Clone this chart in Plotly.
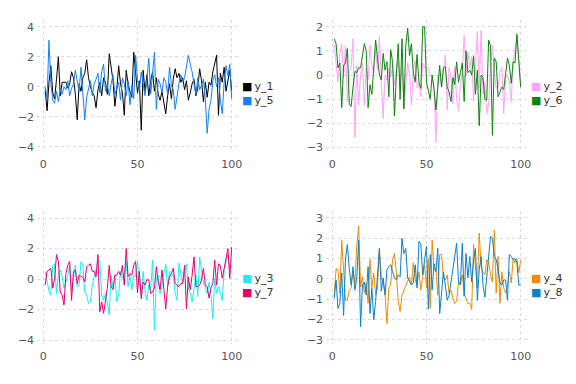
import plotly.graph_objects as go

x = list(range(1, 101))

y_1 = [-0.2, -1.6, 0.3, 1.4, -0.4, -0.8, 0.5, 2.0, -0.6, 0.3,
       0.3, 0.3, -0.1, 0.2, 1.0, 0.6, -0.5, -2.2, 0.2, -0.3,
       0.6, 0.9, 1.8, 0.6, 0.0, -0.4, -0.6, -1.4, -0.2, 0.3,
       -0.6, 0.6, 0.3, -0.5, 2.2, 1.2, 0.4, -1.3, -0.2, 1.4,
       0.2, -0.4, -1.9, 1.1, 0.2, -0.3, -0.7, 2.3, 1.0, -0.4,
       0.4, -2.9, 1.1, -0.3, 0.8, -0.6, 0.4, 1.0, -0.3, 0.6,
       -0.5, -0.9, -0.3, -1.1, -1.8, -0.6, 0.2, -0.8, 0.5, 1.2,
       0.6, 0.9, 0.3, 0.6, -0.2, 0.4, -0.9, -0.4, 0.2, 0.5,
       -0.6, -0.1, 1.2, 0.4, -1.0, 0.3, -0.7, 0.3, 0.1, 1.0,
       1.6, 2.1, -1.9, 0.9, 0.3, 1.3, -0.3, 0.5, 1.1, -0.3]

y_5 = [0.0, -0.8, 3.1, 0.2, -0.9, -1.1, -0.3, -1.0, -0.2, -0.5,
       0.0, -0.2, 0.4, -0.6, -0.1, 0.2, 1.1, 0.4, -0.3, 1.3,
       -0.5, -2.2, -0.7, -0.2, 0.4, -0.6, 0.2, 0.5, 0.9, -0.4,
       1.0, 1.5, -0.3, 0.1, -0.6, 0.2, 0.8, -0.5, -0.1, 0.3,
       -0.9, 0.6, 0.2, -0.6, 0.4, -1.2, 0.1, -0.8, 2.1, 0.5,
       -0.2, 1.0, 0.2, -0.6, 0.5, 1.9, -0.5, 0.8, 2.3, -1.5,
       0.5, 0.2, -0.4, 0.6, 0.3, -0.5, 1.3, 0.1, -0.2, -1.5,
       -0.5, 0.2, 0.8, 0.3, 0.6, 1.4, 2.1, 1.5, 1.0, 0.2,
       -0.5, 0.6, -0.2, 0.1, 0.5, -0.8, -3.1, -1.5, -0.9, 0.4,
       0.8, 0.0, 0.6, -0.9, -1.8, 0.3, 1.4, 0.7, 1.5, -0.8]

y_2 = [1.3, 0.6, -0.3, 0.8, 1.3, -0.1, 1.2, -1.1, 0.2, 0.3,
       1.5, -2.6, 0.4, -1.25, 0.0, 0.5, -1.25, 0.3, -0.2, 1.25,
       0.4, 0.1, 1.0, 0.2, 1.6, -0.2, -1.8, 0.0, -0.2, 0.3,
       -0.1, 0.4, -0.4, 0.2, 0.6, -0.4, 0.3, -1.4, -0.6, 0.5,
       0.1, -1.25, 0.2, 0.6, -0.55, -0.35, -0.9, 0.5, 0.3, 0.3,
       0.3, 0.0, 0.0, -0.5, -2.8, 0.0, 0.0, -0.5, 0.2, 0.85,
       -1.45, 0.3, -0.1, -1.2, 0.35, -1.0, -1.5, -0.4, 0.1, 1.65,
       0.0, 0.95, 0.3, 0.75, -1.1, 0.2, 1.8, -0.55, 1.85, -0.8,
       -0.3, -1.6, -1.2, 0.35, 1.25, 0.1, -0.55, -0.5, 0.1, 0.35,
       -1.6, -0.15, 0.0, -0.3, -1.1, 0.55, 1.1, 1.6, 0.6, -0.4]

y_6 = [1.5, 1.3, 0.3, 0.5, -1.35, 0.4, 0.5, 1.1, -1.2, -1.3,
       -0.5, 0.15, 0.1, 0.3, 0.3, 0.9, 1.3, 1.0, -1.35, -0.4,
       -0.8, 0.3, 1.45, 0.7, 0.0, -0.2, 0.9, 0.2, 0.55, -0.9,
       1.05, 0.55, -1.7, 0.0, 1.3, -1.0, 1.5, -1.4, 1.2, 1.95,
       0.8, 1.3, 0.1, -0.3, 0.85, -0.3, -0.55, 2.0, 2.0, -0.3,
       -0.7, -1.0, 0.0, -0.6, -1.45, -0.4, 0.4, -0.5, 0.3, 0.35,
       -0.5, -0.7, -1.1, -0.1, -0.4, 0.55, -0.3, 0.1, 0.5, -1.1,
       1.0, 0.1, 0.2, 0.0, 0.8, -0.8, 0.2, -2.1, 0.0, -0.1,
       -1.0, -1.05, 1.45, 1.2, -2.5, 0.7, 0.55, -0.9, -0.7, -0.5,
       -0.6, 0.1, 0.7, 0.4, -0.35, 0.55, 0.5, 1.7, 0.7, -0.5]

y_3 = [0.5, -0.05, -0.8, -1.05, 0.9, 1.0, -0.95, 0.35, 0.6, 0.15,
       -0.6, -0.2, 0.15, 0.9, -0.7, -0.05, 0.9, -0.5, -0.4, 1.15,
       0.9, -0.85, -1.05, -1.6, -1.5, -0.4, 0.1, 0.5, 1.15, 1.25,
       -1.05, -1.4, -0.95, -1.5, -2.35, 0.25, -0.6, 0.25, -1.5, -0.95,
       0.5, 0.05, 0.35, 1.15, -0.5, 0.25, -0.7, 0.25, 0.15, 1.15,
       -0.3, -1.05, 0.5, -0.85, -1.4, -0.4, -0.7, 1.25, -3.35, 0.0,
       0.25, -0.95, -0.5, 0.35, 1.0, -0.5, 0.5, 0.15, 0.35, -0.95,
       -1.4, 1.05, 0.25, -0.3, 0.4, 1.0, -0.6, -0.95, -1.5, -0.7,
       0.25, -1.15, 1.45, 0.6, -0.3, -0.5, -0.95, -0.2, -1.05, -2.6,
       0.05, -0.95, -0.5, -0.95, -1.4, 0.5, 1.15, 1.6, 0.7, 0.5]

y_7 = [-0.4, 0.5, 0.6, 0.7, -0.6, 0.05, 1.6, 1.15, -0.85, -1.05,
       -1.7, 0.35, 0.9, 1.15, -1.4, 0.5, 0.6, -0.3, 0.25, 0.15,
       0.1, -0.2, 0.8, 0.9, 1.0, 0.5, 0.5, 0.15, 1.6, -2.15,
       -1.5, -2.25, -1.25, -0.6, 0.9, -0.5, -0.7, 0.25, 0.25, 0.5,
       0.25, 0.9, -0.4, 2.0, 0.15, 0.35, 0.25, 0.9, 1.15, -0.9,
       0.5, -1.3, -0.2, -0.4, -0.05, -0.05, -0.95, -0.85, -0.6, 0.8,
       -0.2, -0.7, 0.6, -0.6, -1.95, -0.5, 0.15, 0.35, 0.7, -0.3,
       -0.4, -0.5, -0.3, -0.3, 0.9, -1.95, 0.15, -0.7, 0.25, 1.45,
       -0.5, -0.5, -0.4, -0.05, 0.7, -0.4, -0.5, -1.25, -0.6, -0.3,
       1.25, -0.4, 1.0, 0.9, 0.05, 0.7, 1.35, 2.0, 0.05, 2.1]

y_4 = [-0.8, 0.5, 0.45, -0.7, 1.9, 0.35, -1.05, -1.05, -0.55, -0.45,
       0.35, -0.2, 1.65, 2.6, -0.4, 0.1, -0.7, -0.2, -1.2, 0.95,
       -0.45, 0.3, -0.8, -0.4, 1.45, 0.1, -0.2, -0.8, -2.2, -0.45,
       -0.3, 0.95, 1.25, 0.3, -1.1, -1.6, -0.8, -0.55, -0.3, -0.05,
       0.1, -0.3, 0.8, -0.05, -0.3, 0.35, -0.55, 0.1, 0.7, -0.45,
       1.0, -1.45, 1.9, 0.45, 0.5, -0.8, 1.2, 1.2, 0.05, -0.05,
       0.2, -0.7, -0.55, -0.95, -1.2, -1.1, -0.15, -0.3, 0.2, -0.7,
       -0.95, -1.2, -1.2, -1.5, 1.7, 0.45, -0.45, 2.25, 0.6, 0.35,
       0.2, 0.95, 0.8, 0.2, -0.15, 2.4, -0.7, 1.1, -1.2, 0.35,
       -0.45, -0.7, -0.3, 0.35, -0.2, 1.0, 0.8, 1.0, 0.3, 0.9]

y_8 = [-0.95, -0.05, -1.45, -1.2, 0.3, -1.8, 1.0, 1.7, 0.5, -0.3,
       0.6, -0.55, 0.05, 1.9, -2.35, -0.3, -0.15, -0.8, 0.6, -1.7,
       -0.45, -2.0, -1.1, 0.35, 1.5, -0.6, 0.05, -0.8, 0.45, 0.6,
       0.7, 0.35, 0.05, -0.05, 0.2, 0.1, 2.0, 1.25, 1.5, 0.05,
       -0.15, -0.3, -0.2, 0.7, -0.45, 1.85, 1.7, 0.2, 0.95, 1.6,
       -1.5, 1.2, -0.55, 0.75, 0.35, 1.5, -1.7, -0.8, 0.35, -0.3,
       -1.05, -0.8, -0.15, 0.6, 1.2, 1.75, -0.15, -0.3, 1.75, -0.85,
       1.25, 0.05, 1.1, -0.15, 0.95, 1.5, -1.05, 0.45, 1.1, -0.3,
       -0.9, 0.1, 1.5, 2.1, 2.0, 1.1, 0.95, 0.5, -0.2, -0.3,
       -0.05, -0.05, -1.05, 1.2, 1.1, 0.95, 1.0, 0.8, -0.3, -0.3]

x_ticks = [0, 50, 100]
y_ticks_1 = [-4, -2, 0, 2, 4]
y_ticks_2 = [-3, -2, -1, 0, 1, 2]
y_ticks_3 = [-4, -2, 0, 2, 4]
y_ticks_4 = [-3, -2, -1, 0, 1, 2, 3]

colors = {
    "y_1": "#000000", "y_5": "#1482f5",
    "y_2": "#ffa3f7", "y_6": "#0a870a",
    "y_3": "#19f0f0", "y_7": "#e6006e",
    "y_4": "#ee8c00", "y_8": "#0b82c8",
}

panels = [
    (["y_1", "y_5"], [y_1, y_5], "", y_ticks_1, [-4.35, 4.45]),
    (["y_2", "y_6"], [y_2, y_6], "2", y_ticks_2, [-3.19, 2.28]),
    (["y_3", "y_7"], [y_3, y_7], "3", y_ticks_3, [-4.26, 4.46]),
    (["y_4", "y_8"], [y_4, y_8], "4", y_ticks_4, [-3.2, 3.34]),
]

# The page body adds an 8px offset; lay out in window pixels minus that.
OFF = 8
W, H = 576 - OFF, 384 - OFF
xdom_px = [(37.1, 239.2), (326.1, 528.2)]
ydom_px = [(20, 152), (211, 344)]

fig = go.Figure()
GRID = "#d8d8e6"
TICKFONT = dict(family="DejaVu Sans", size=11, color="#555555")

layout = dict(
    width=W, height=H,
    margin=dict(l=0, r=0, t=0, b=0, autoexpand=False),
    paper_bgcolor="white", plot_bgcolor="white",
    showlegend=False,
    font=dict(family="DejaVu Sans", size=11, color="#333333"),
)

annotations = []
for k, (names, data, suf, yt, yr) in enumerate(panels):
    col = k % 2
    row = k // 2
    for name, vals in zip(names, data):
        fig.add_trace(go.Scatter(
            x=x, y=vals, mode="lines", name=name,
            line=dict(color=colors[name], width=1),
            xaxis="x" + suf, yaxis="y" + suf,
        ))
    xd = [(xdom_px[col][0] - OFF) / W, (xdom_px[col][1] - OFF) / W]
    yd = [1 - (ydom_px[row][1] - OFF) / H, 1 - (ydom_px[row][0] - OFF) / H]
    layout["xaxis" + suf] = dict(
        domain=xd, range=[-3.3, 104], anchor="y" + suf,
        tickvals=x_ticks, showgrid=True, gridcolor=GRID, griddash="dot",
        gridwidth=1, zeroline=False, showline=False, ticks="",
        tickfont=TICKFONT, ticklabelstandoff=4, automargin=False,
    )
    layout["yaxis" + suf] = dict(
        domain=yd, range=yr, anchor="x" + suf,
        tickvals=yt, showgrid=True, gridcolor=GRID, griddash="dot",
        gridwidth=1, zeroline=False, showline=False, ticks="",
        tickfont=TICKFONT, ticklabelstandoff=2, automargin=False,
    )
    lx = (xdom_px[col][1] + 1 - OFF) / W
    ly = 1 - ((ydom_px[row][0] + ydom_px[row][1]) / 2 + 8 - OFF) / H
    txt = "<br>".join(
        f"<span style='color:{colors[n]}'>■</span>\u2009{n}" for n in names
    )
    annotations.append(dict(
        text=txt, x=lx, y=ly, xref="paper", yref="paper",
        xanchor="left", yanchor="middle", align="left", showarrow=False,
        font=dict(family="DejaVu Sans", size=11, color="#333333"),
    ))

layout["annotations"] = annotations
fig.update_layout(**layout)
fig.write_html("out.html")
